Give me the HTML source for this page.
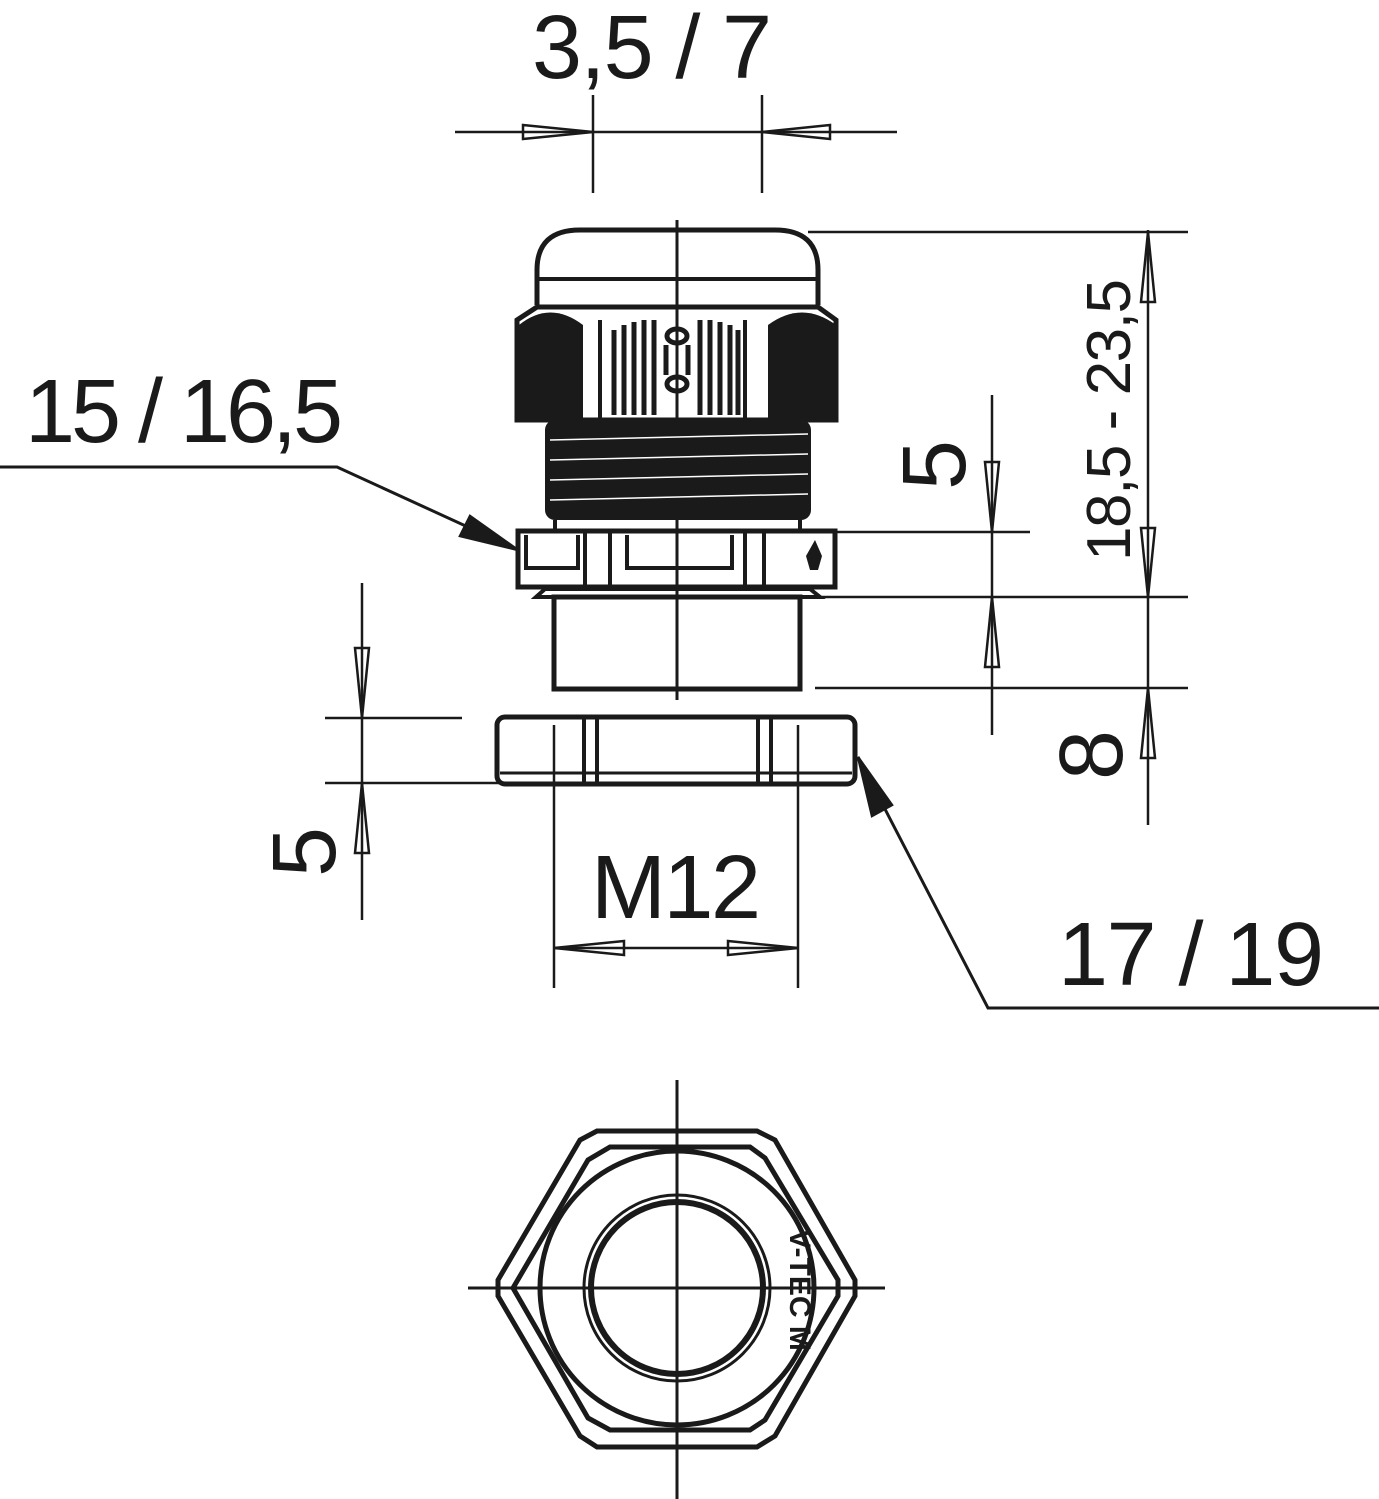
<!DOCTYPE html>
<html><head><meta charset="utf-8"><style>html,body{margin:0;padding:0;background:#fff}svg{display:block}</style></head>
<body>
<svg width="1379" height="1499" viewBox="0 0 1379 1499" xmlns="http://www.w3.org/2000/svg" font-family="Liberation Sans, sans-serif" fill="none" stroke="#1a1a1a" stroke-width="2.5">
<!-- centerline -->
<line x1="677" y1="220" x2="677" y2="700" stroke-width="3"/>
<!-- cap dome -->
<path d="M537 305 V270 Q537 230 580 230 H775 Q818 230 818 270 V305" stroke-width="5"/>
<line x1="537" y1="279" x2="818" y2="279" stroke-width="4"/>
<!-- hex nut -->
<path d="M517 420 V320 L537 307 H818 L836 320 V420 Z" stroke-width="5"/>
<path d="M519 418 V325 Q550 300 583 325 V418 Z" fill="#1a1a1a" stroke="none"/>
<path d="M836 418 V325 Q802 300 768 325 V418 Z" fill="#1a1a1a" stroke="none"/>
<line x1="600" y1="320" x2="600" y2="420" stroke-width="4"/>
<line x1="745" y1="320" x2="745" y2="420" stroke-width="4"/>
<g stroke-width="5">
<line x1="614" y1="330" x2="614" y2="415"/><line x1="624" y1="325" x2="624" y2="415"/><line x1="634" y1="322" x2="634" y2="415"/><line x1="644" y1="320" x2="644" y2="415"/><line x1="654" y1="320" x2="654" y2="415"/>
<line x1="700" y1="320" x2="700" y2="415"/><line x1="710" y1="320" x2="710" y2="415"/><line x1="720" y1="322" x2="720" y2="415"/><line x1="730" y1="325" x2="730" y2="415"/><line x1="738" y1="330" x2="738" y2="415"/>
</g>
<ellipse cx="677" cy="336" rx="10" ry="7" stroke-width="5"/><ellipse cx="677" cy="384" rx="10" ry="7" stroke-width="5"/>
<line x1="666" y1="345" x2="666" y2="375" stroke-width="5"/><line x1="688" y1="345" x2="688" y2="375" stroke-width="5"/>
<!-- thread -->
<rect x="545" y="420" width="266" height="100" fill="#1a1a1a" stroke="none" rx="10"/>
<g stroke="#fff" stroke-width="1.5"><line x1="550" y1="440" x2="808" y2="434"/><line x1="550" y1="460" x2="808" y2="454"/><line x1="550" y1="480" x2="808" y2="474"/><line x1="550" y1="500" x2="808" y2="494"/></g>
<line x1="555" y1="520" x2="555" y2="532" stroke-width="4"/><line x1="800" y1="520" x2="800" y2="532" stroke-width="4"/>
<!-- ring -->
<rect x="518" y="531" width="317" height="56" stroke-width="5"/>
<path d="M526 535 V568 H578 V535" stroke-width="4"/><path d="M627 535 V568 H732 V535" stroke-width="4"/>
<line x1="585" y1="531" x2="585" y2="587" stroke-width="4"/><line x1="610" y1="531" x2="610" y2="587" stroke-width="4"/>
<line x1="745" y1="531" x2="745" y2="587" stroke-width="4"/><line x1="764" y1="531" x2="764" y2="587" stroke-width="4"/>
<path d="M815 540 L822 556 L818 570 L810 570 L806 556 Z" fill="#1a1a1a" stroke="none"/>
<!-- body -->
<path d="M536 597 L545 589 H810 L820 597 Z" stroke-width="4"/>
<rect x="554" y="597" width="246" height="92" stroke-width="5"/>
<!-- lower nut -->
<rect x="497" y="717" width="358" height="67" rx="8" stroke-width="5"/>
<line x1="584" y1="719" x2="584" y2="782" stroke-width="4"/><line x1="597" y1="719" x2="597" y2="782" stroke-width="4"/>
<line x1="758" y1="719" x2="758" y2="782" stroke-width="4"/><line x1="771" y1="719" x2="771" y2="782" stroke-width="4"/>
<line x1="500" y1="773" x2="852" y2="773" stroke-width="3"/>
<!-- top dimension -->
<line x1="593" y1="95" x2="593" y2="193"/><line x1="762" y1="95" x2="762" y2="193"/>
<line x1="455" y1="132" x2="897" y2="132"/>
<path d="M593 132 L523 125 L523 139 Z"/><path d="M762 132 L830 125 L830 139 Z"/>
<text x="652" y="78" font-size="90" fill="#1a1a1a" stroke="none" text-anchor="middle" textLength="240">3,5 / 7</text>
<!-- right dims -->
<line x1="808" y1="232" x2="1188" y2="232"/><line x1="830" y1="532" x2="1030" y2="532"/>
<line x1="820" y1="597" x2="1188" y2="597"/><line x1="815" y1="688" x2="1188" y2="688"/>
<line x1="1148" y1="230" x2="1148" y2="825"/>
<path d="M1148 232 L1141 302 L1155 302 Z"/><path d="M1148 597 L1141 528 L1155 528 Z"/><path d="M1148 688 L1141 758 L1155 758 Z"/>
<line x1="992" y1="395" x2="992" y2="735"/>
<path d="M992 532 L985 462 L999 462 Z"/><path d="M992 597 L985 667 L999 667 Z"/>
<text transform="translate(1130 420) rotate(-90)" font-size="62" fill="#1a1a1a" stroke="none" text-anchor="middle" textLength="282">18,5 - 23,5</text>
<text transform="translate(965 465) rotate(-90)" font-size="90" fill="#1a1a1a" stroke="none" text-anchor="middle">5</text>
<text transform="translate(1122 755) rotate(-90)" font-size="90" fill="#1a1a1a" stroke="none" text-anchor="middle">8</text>
<!-- left dims -->
<line x1="325" y1="718" x2="462" y2="718"/><line x1="325" y1="783" x2="505" y2="783"/>
<line x1="362" y1="583" x2="362" y2="920"/>
<path d="M362 718 L355 648 L369 648 Z"/><path d="M362 783 L355 853 L369 853 Z"/>
<text transform="translate(335 852) rotate(-90)" font-size="90" fill="#1a1a1a" stroke="none" text-anchor="middle">5</text>
<!-- M12 -->
<line x1="554" y1="725" x2="554" y2="988"/><line x1="798" y1="725" x2="798" y2="988"/>
<line x1="554" y1="948" x2="798" y2="948"/>
<path d="M554 948 L624 941 L624 955 Z"/><path d="M798 948 L728 941 L728 955 Z"/>
<text x="676" y="918" font-size="90" fill="#1a1a1a" stroke="none" text-anchor="middle" textLength="170">M12</text>
<!-- leaders -->
<polyline points="0,467 337,467 518,550" stroke-width="3"/>
<path d="M518 550 L460 536 L470 516 Z" fill="#1a1a1a"/>
<text x="25" y="442" font-size="90" fill="#1a1a1a" stroke="none" textLength="318">15 / 16,5</text>
<polyline points="1379,1008 988,1008 858,757" stroke-width="3"/>
<path d="M858 757 L872 816 L892 805 Z" fill="#1a1a1a"/>
<text x="1058" y="985" font-size="90" fill="#1a1a1a" stroke="none" textLength="266">17 / 19</text>
<!-- bottom view -->
<line x1="677" y1="1080" x2="677" y2="1499" stroke-width="3"/>
<line x1="468" y1="1288" x2="885" y2="1288" stroke-width="3"/>
<polygon points="597,1131 757,1131 775,1140 855,1280 855,1296 775,1436 757,1447 597,1447 580,1436 498,1296 498,1280 580,1140" stroke-width="5"/>
<polygon points="610,1147 750,1147 765,1158 838,1280 838,1296 765,1420 750,1430 610,1430 588,1418 513,1288 588,1160" stroke-width="5"/>
<circle cx="677" cy="1288" r="137" stroke-width="5"/>
<circle cx="677" cy="1288" r="93" stroke-width="3"/>
<circle cx="677" cy="1288" r="86" stroke-width="6"/>
<text transform="translate(790 1290) rotate(90)" font-size="30" font-weight="bold" fill="#1a1a1a" stroke="none" text-anchor="middle">V-TEC M</text>
</svg>
</body></html>
